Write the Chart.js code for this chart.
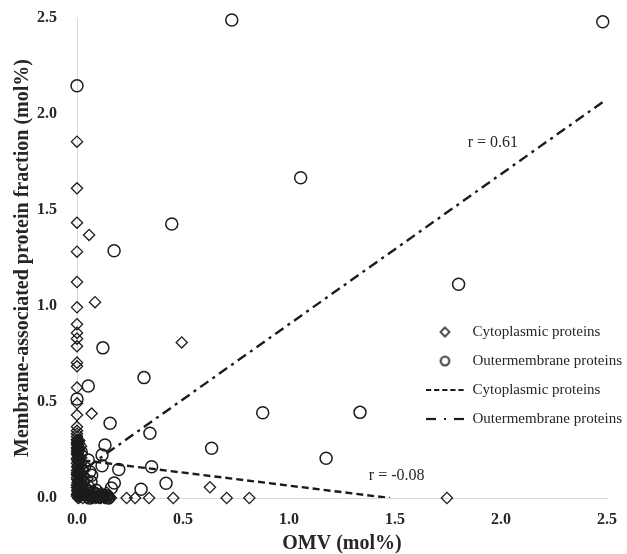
<!DOCTYPE html>
<html>
<head>
<meta charset="utf-8">
<script src="https://cdn.jsdelivr.net/npm/chart.js@4"></script>
<style>
html,body{margin:0;padding:0;background:#ffffff;}
#wrap{width:627px;height:554px;position:relative;}
</style>
</head>
<body>
<div id="wrap"><canvas id="c" width="627" height="554"></canvas></div>
<script>
// ---------- data ----------
const scatterNames = ['Cytoplasmic proteins', 'Outermembrane proteins'];
const trendNames = ['Cytoplasmic proteins', 'Outermembrane proteins'];
const xAxisTitle = 'OMV (mol%)';
const yAxisTitle = 'Membrane-associated protein fraction (mol%)';
const xTickLabels = ['0.0', '0.5', '1.0', '1.5', '2.0', '2.5'];
const yTickLabels = ['0.0', '0.5', '1.0', '1.5', '2.0', '2.5'];

// Cytoplasmic proteins (diamonds)
const cytoX = [
  0.000, 0.000, 0.000, 0.057, 0.000, 0.000, 0.085, 0.000, 0.000, 0.000,
  0.000, 0.000, 0.000, 0.000, 0.494, 0.000, 0.000, 0.069, 0.000, 0.000,
  0.000, 0.000, 0.000, 0.627, 0.234, 0.274, 0.340, 0.454, 0.706, 0.813,
  1.745,
  0.000, 0.003, 0.000, 0.006, 0.001, 0.009, 0.000, 0.004, 0.012, 0.001,
  0.007, 0.015, 0.002, 0.010, 0.000, 0.018, 0.005, 0.013, 0.000, 0.022,
  0.008, 0.002, 0.016, 0.007, 0.000, 0.025, 0.012, 0.003, 0.020, 0.008,
  0.000, 0.015, 0.005, 0.036, 0.044, 0.052, 0.060, 0.068, 0.075, 0.083,
  0.092, 0.100, 0.108, 0.117, 0.126, 0.135, 0.146, 0.155, 0.040, 0.046,
  0.034, 0.056, 0.028, 0.030, 0.021, 0.024, 0.019, 0.011, 0.062, 0.078,
  0.088, 0.112, 0.140, 0.050, 0.000, 0.006, 0.014, 0.004,
  0.002, 0.006, 0.000, 0.010, 0.003, 0.000, 0.007, 0.011, 0.000, 0.005,
  0.002, 0.009, 0.000, 0.004, 0.012, 0.000, 0.006, 0.002, 0.009, 0.000,
  0.004, 0.011, 0.001, 0.006, 0.013, 0.000, 0.004, 0.010, 0.001, 0.006,
  0.000, 0.012,
  0.028, 0.040, 0.048, 0.056, 0.064, 0.072, 0.080, 0.088, 0.096, 0.104,
  0.113, 0.122, 0.130, 0.140, 0.150, 0.160, 0.032, 0.058, 0.074, 0.095,
  0.120,
  0.022, 0.030, 0.018, 0.036, 0.042, 0.026, 0.020
];
const cytoY = [
  1.856, 1.613, 1.434, 1.370, 1.283, 1.125, 1.020, 0.993, 0.905, 0.860,
  0.830, 0.790, 0.705, 0.686, 0.810, 0.575, 0.493, 0.440, 0.432, 0.371,
  0.350, 0.335, 0.320, 0.056, 0.000, 0.000, 0.000, 0.000, 0.000, 0.000,
  0.000,
  0.305, 0.292, 0.280, 0.268, 0.255, 0.243, 0.232, 0.220, 0.210, 0.198,
  0.187, 0.176, 0.165, 0.154, 0.143, 0.136, 0.126, 0.116, 0.106, 0.098,
  0.090, 0.080, 0.072, 0.063, 0.055, 0.049, 0.041, 0.033, 0.026, 0.018,
  0.010, 0.006, 0.000, 0.012, 0.002, 0.018, 0.006, 0.020, 0.000, 0.012,
  0.004, 0.017, 0.000, 0.009, 0.003, 0.013, 0.000, 0.005, 0.032, 0.056,
  0.083, 0.040, 0.118, 0.150, 0.182, 0.230, 0.270, 0.300, 0.062, 0.035,
  0.026, 0.024, 0.028, 0.100, 0.120, 0.140, 0.060, 0.250,
  0.300, 0.296, 0.288, 0.284, 0.275, 0.262, 0.260, 0.250, 0.244, 0.238,
  0.226, 0.214, 0.206, 0.193, 0.190, 0.181, 0.172, 0.160, 0.148, 0.130,
  0.122, 0.110, 0.096, 0.086, 0.077, 0.068, 0.058, 0.047, 0.040, 0.025,
  0.020, 0.004,
  0.000, 0.010, 0.000, 0.008, 0.000, 0.010, 0.004, 0.000, 0.010, 0.004,
  0.000, 0.012, 0.000, 0.008, 0.012, 0.000, 0.022, 0.028, 0.018, 0.026,
  0.022,
  0.040, 0.070, 0.100, 0.090, 0.025, 0.150, 0.210
];

// Outermembrane proteins (circles)
const outerX = [
  0.000, 0.730, 2.480, 0.447, 0.175, 1.055, 1.800, 0.122, 0.316, 0.053,
  0.000, 0.876, 1.335, 0.156, 0.344, 0.132, 0.635, 0.118, 1.175, 0.053,
  0.352, 0.118, 0.197, 0.060, 0.069, 0.066, 0.176, 0.420, 0.162, 0.302,
  0.140, 0.148, 0.030, 0.060, 0.100, 0.020, 0.035, 0.090
];
const outerY = [
  2.147, 2.490, 2.480, 1.427, 1.288, 1.668, 1.113, 0.782, 0.627, 0.583,
  0.516, 0.444, 0.446, 0.389, 0.337, 0.276, 0.259, 0.224, 0.207, 0.198,
  0.163, 0.168, 0.148, 0.137, 0.118, 0.084, 0.078, 0.077, 0.052, 0.046,
  0.012, 0.000, 0.020, 0.000, 0.005, 0.240, 0.160, 0.040
];

// Linear trend lines (end points)
const cytoTrendX = [0.030, 1.476];
const cytoTrendY = [0.196, 0.000];
const outerTrendX = [0.050, 2.490];
const outerTrendY = [0.162, 2.070];

// Correlation labels and their anchor values (data units)
const corrLabels = ['r = 0.61', 'r = -0.08'];
const corrAnchorX = [1.962, 1.508];
const corrAnchorY = [1.849, 0.115];

// ---------- helpers ----------
const toPoints = (xs, ys) => xs.map((x, i) => ({x: x, y: ys[i]}));
const INK = '#1c1c1c';
const TEXT = '#262626';
const SERIF = '"Liberation Serif", "Times New Roman", serif';

function makeIcon(w, h, draw) {
  const c = document.createElement('canvas');
  c.width = w; c.height = h;
  const g = c.getContext('2d');
  g.strokeStyle = INK; g.fillStyle = INK;
  draw(g);
  return c;
}
const iconDiamond = makeIcon(13, 13, g => {
  g.lineWidth = 1.6;
  g.beginPath(); g.moveTo(6.5, 2); g.lineTo(11, 6.5); g.lineTo(6.5, 11); g.lineTo(2, 6.5); g.closePath(); g.stroke();
});
const iconCircle = makeIcon(13, 13, g => {
  g.lineWidth = 1.8;
  g.beginPath(); g.arc(6.5, 6.5, 4.3, 0, Math.PI * 2); g.stroke();
});
const iconDashed = makeIcon(40, 4, g => {
  g.lineWidth = 2;
  g.setLineDash([5.2, 2.9]);
  g.beginPath(); g.moveTo(1, 2); g.lineTo(39, 2); g.stroke();
});
const iconDashDot = makeIcon(40, 4, g => {
  g.lineWidth = 2.2;
  g.beginPath(); g.moveTo(1, 2); g.lineTo(11, 2); g.stroke();
  g.beginPath(); g.moveTo(29, 2); g.lineTo(39, 2); g.stroke();
  g.fillRect(19, 1, 2, 2);
});
const legendIcons = [iconDiamond, iconCircle, iconDashed, iconDashDot];

// place legend inside plot area (right side)
const legendPlacer = {
  id: 'legendPlacer',
  afterLayout(chart) {
    const lg = chart.legend;
    const ca = chart.chartArea;
    if (!lg) return;
    lg.left = ca.right - 196;
    lg.top = ca.top + 292.5;
    lg.right = chart.width;
    lg.bottom = chart.height;
    lg.width = lg.right - lg.left;
    lg.height = lg.bottom - lg.top;
  }
};

const corrText = {
  id: 'corrText',
  afterDatasetsDraw(chart) {
    const {ctx, scales} = chart;
    ctx.save();
    ctx.font = '16px ' + SERIF;
    ctx.fillStyle = TEXT;
    ctx.textAlign = 'center';
    ctx.textBaseline = 'middle';
    corrLabels.forEach((t, i) => {
      ctx.fillText(t, scales.x.getPixelForValue(corrAnchorX[i]), scales.y.getPixelForValue(corrAnchorY[i]));
    });
    ctx.restore();
  }
};

function noScalePadding(s) {
  s.paddingTop = 0; s.paddingBottom = 0; s.paddingLeft = 0; s.paddingRight = 0;
}

Chart.defaults.font.family = SERIF;
Chart.defaults.color = TEXT;

new Chart(document.getElementById('c'), {
  type: 'scatter',
  data: {
    datasets: [
      {
        label: scatterNames[0],
        data: toPoints(cytoX, cytoY),
        pointStyle: 'rectRot',
        pointRadius: 5.6,
        borderWidth: 1.3,
        borderColor: INK,
        backgroundColor: 'rgba(0,0,0,0)',
        clip: false,
        order: 2
      },
      {
        label: scatterNames[1],
        data: toPoints(outerX, outerY),
        pointStyle: 'circle',
        pointRadius: 6,
        borderWidth: 1.5,
        borderColor: INK,
        backgroundColor: 'rgba(0,0,0,0)',
        clip: false,
        order: 2
      },
      {
        label: trendNames[0],
        type: 'line',
        data: toPoints(cytoTrendX, cytoTrendY),
        showLine: true,
        pointRadius: 0,
        borderColor: INK,
        backgroundColor: INK,
        borderWidth: 2.4,
        borderDash: [7, 4],
        fill: false,
        order: 1
      },
      {
        label: trendNames[1],
        type: 'line',
        data: toPoints(outerTrendX, outerTrendY),
        showLine: true,
        pointRadius: 0,
        borderColor: INK,
        backgroundColor: INK,
        borderWidth: 2.4,
        borderDash: [10, 5, 3, 5],
        fill: false,
        order: 1
      }
    ]
  },
  options: {
    responsive: false,
    animation: false,
    devicePixelRatio: 1,
    events: [],
    layout: {padding: {top: 18, right: 20, bottom: 0, left: 0}},
    plugins: {
      tooltip: {enabled: false},
      legend: {
        position: 'chartArea',
        align: 'start',
        labels: {
          usePointStyle: true,
          pointStyleWidth: 40,
          boxHeight: 15,
          padding: 14,
          color: TEXT,
          font: {family: SERIF, size: 15},
          generateLabels(chart) {
            const items = Chart.defaults.plugins.legend.labels.generateLabels(chart);
            items.forEach((it, i) => { it.pointStyle = legendIcons[i]; it.lineDash = []; });
            return items;
          }
        }
      }
    },
    scales: {
      x: {
        type: 'linear',
        min: 0, max: 2.5,
        afterFit(s) { s.height = 56; noScalePadding(s); },
        ticks: {
          stepSize: 0.5,
          padding: 12,
          color: TEXT,
          font: {family: SERIF, size: 16, weight: 'bold'},
          callback: (v, i) => xTickLabels[i]
        },
        grid: {display: false, drawTicks: false},
        border: {display: true, color: '#d9d9d9', width: 1},
        title: {
          display: true,
          text: xAxisTitle,
          color: TEXT,
          font: {family: SERIF, size: 20, weight: 'bold', lineHeight: 1},
          padding: {top: 0, bottom: 0}
        }
      },
      y: {
        type: 'linear',
        min: 0, max: 2.5,
        afterFit(s) { s.width = 77; noScalePadding(s); },
        ticks: {
          stepSize: 0.5,
          padding: 20,
          color: TEXT,
          font: {family: SERIF, size: 16, weight: 'bold'},
          callback: (v, i) => yTickLabels[i]
        },
        grid: {display: false, drawTicks: false},
        border: {display: true, color: '#d9d9d9', width: 1},
        title: {
          display: true,
          text: yAxisTitle,
          color: TEXT,
          font: {family: SERIF, size: 20, weight: 'bold', lineHeight: 1},
          padding: {top: 13, bottom: 0}
        }
      }
    }
  },
  plugins: [legendPlacer, corrText]
});
</script>
</body>
</html>
